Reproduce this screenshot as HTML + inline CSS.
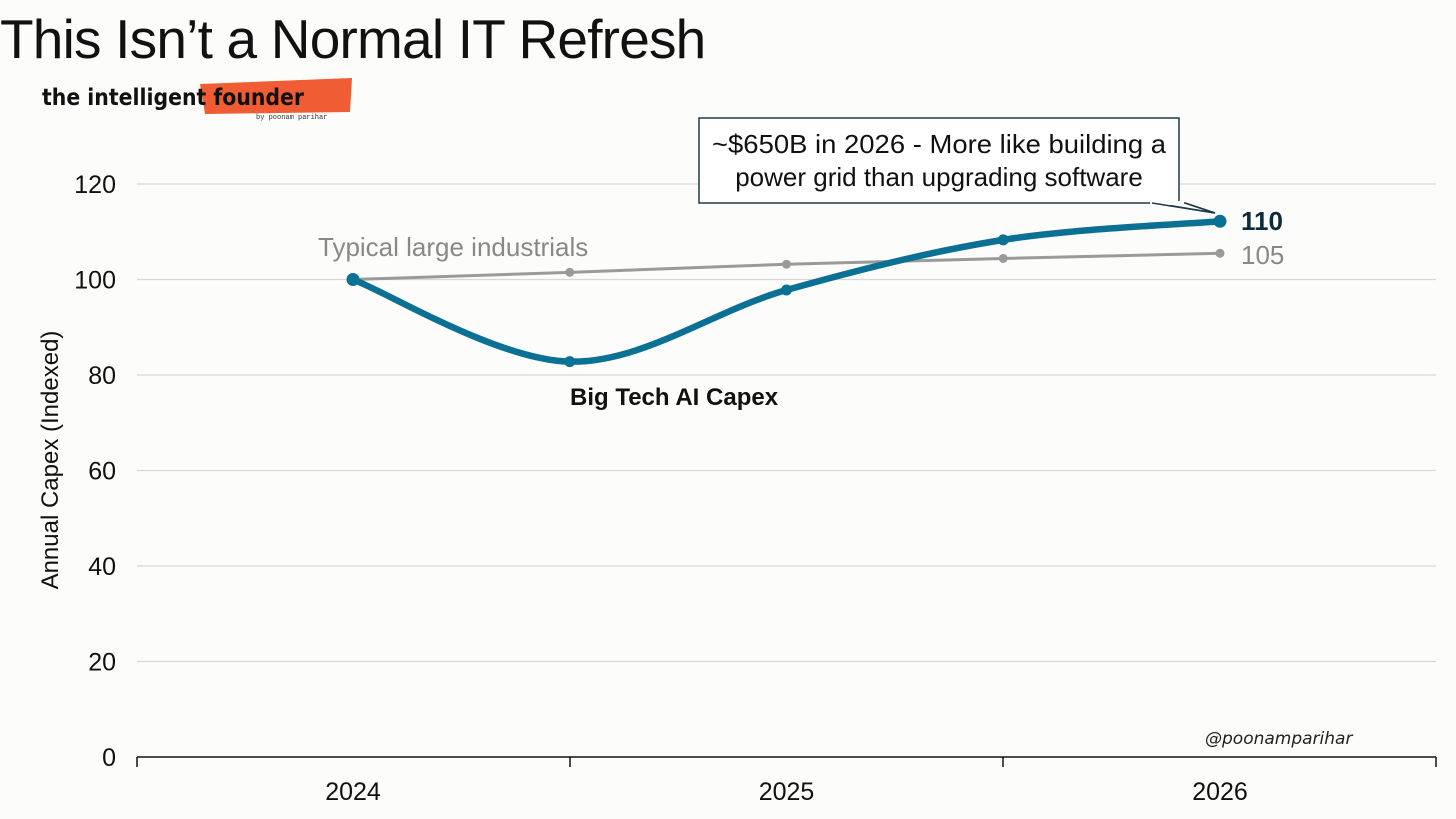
<!DOCTYPE html>
<html><head><meta charset="utf-8"><style>
body{margin:0;background:#fcfcfb;font-family:"Liberation Sans",sans-serif}
</style></head><body>
<svg id="chart" width="1456" height="819" viewBox="0 0 1456 819" xmlns="http://www.w3.org/2000/svg" style="display:block">
<rect width="1456" height="819" fill="#fcfcfb"/>
<text x="0" y="58" font-size="55" fill="#111" font-family="Liberation Sans, sans-serif" letter-spacing="-0.8">This Isn’t a Normal IT Refresh</text>
<g>
<path d="M200 84 L352 78 L350 112 L205 114 Z" fill="#ee4a1e" opacity="0.9"/>
<text x="42" y="105" font-size="23" font-weight="bold" fill="#111" font-family="DejaVu Sans, sans-serif" textLength="262" lengthAdjust="spacingAndGlyphs">the intelligent founder</text>
<text x="256" y="119" font-size="7" fill="#333" font-family="Liberation Mono, monospace">by poonam parihar</text>
</g>
<g id="grid"></g>
<g id="axes"></g>
<text transform="translate(58,460) rotate(-90)" text-anchor="middle" font-size="24" fill="#111">Annual Capex (Indexed)</text>
<g id="series"></g>
<text x="318" y="256" font-size="26" fill="#888">Typical large industrials</text>
<text x="570" y="405" font-size="24" font-weight="bold" fill="#111">Big Tech AI Capex</text>
<g>
<path d="M699 118 H1179 V203 H1185 L1215 213 L1155 203 H699 Z" fill="#fff" stroke="#1f3a48" stroke-width="1.5"/>
<rect x="1150" y="201" width="34" height="4" fill="#fff"/>
<path d="M1152 203 L1215 213 L1185 203" fill="none" stroke="#1f3a48" stroke-width="1.5"/>
<text x="939" y="153" text-anchor="middle" font-size="26" fill="#111" textLength="454" lengthAdjust="spacingAndGlyphs">~$650B in 2026 - More like building a</text>
<text x="939" y="186" text-anchor="middle" font-size="26" fill="#111">power grid than upgrading software</text>
</g>
<text x="1205" y="744" font-size="17" fill="#222" font-style="italic" font-family="DejaVu Sans, sans-serif">@poonamparihar</text>
</svg>
<script>
const categories=["2024","2024.5","2025","2025.5","2026"];
const bigTech=[100,82.8,97.8,108.3,112.2];
const industrials=[100,101.5,103.2,104.4,105.5];
const yTicks=[0,20,40,60,80,100,120];
const xTickLabels=["2024","2025","2026"];
const endLabels=["110","105"];
const NS="http://www.w3.org/2000/svg";
const x=i=>353+i*216.75;
const y=v=>757-v*(573/120);
function el(t,a,p){const e=document.createElementNS(NS,t);for(const k in a)e.setAttribute(k,a[k]);p.appendChild(e);return e;}
const grid=document.getElementById('grid'),axes=document.getElementById('axes'),series=document.getElementById('series');
yTicks.forEach(v=>{
 if(v>0){const l=el('line',{x1:137,x2:1436,y1:y(v),y2:y(v),stroke:'#dcd6d4','stroke-width':1.3},grid);
 
 }
 const t=el('text',{x:116,y:y(v)+9,'text-anchor':'end','font-size':25,fill:'#111'},axes);t.textContent=v;
 
 
});
const ax=el('line',{x1:137,x2:1436,y1:757,y2:757,stroke:'#111','stroke-width':1.5},axes);


for(let i=0;i<4;i++){el('line',{x1:137+i*433,x2:137+i*433,y1:757,y2:767,stroke:'#111','stroke-width':1.5},axes);}
xTickLabels.forEach((s,i)=>{const t=el('text',{x:x(i*2),y:800,'text-anchor':'middle','font-size':25,fill:'#111'},axes);t.textContent=s;
 
 });
function smooth(vals){const p=vals.map((v,i)=>[x(i),y(v)]);let d='M'+p[0];
 for(let i=0;i<p.length-1;i++){const p0=p[Math.max(0,i-1)],p1=p[i],p2=p[i+1],p3=p[Math.min(p.length-1,i+2)];
 d+=` C${p1[0]+(p2[0]-p0[0])/6},${p1[1]+(p2[1]-p0[1])/6} ${p2[0]-(p3[0]-p1[0])/6},${p2[1]-(p3[1]-p1[1])/6} ${p2[0]},${p2[1]}`;}return d;}
const gl=el('polyline',{points:industrials.map((v,i)=>x(i)+','+y(v)).join(' '),fill:'none',stroke:'#9a9a9a','stroke-width':3},series);


industrials.forEach((v,i)=>{const c=el('circle',{cx:x(i),cy:y(v),r:4.5,fill:'#9a9a9a'},series);
 
 });
const bl=el('path',{d:smooth(bigTech),fill:'none',stroke:'#0a7194','stroke-width':6.5,'stroke-linecap':'round'},series);


bigTech.forEach((v,i)=>{const c=el('circle',{cx:x(i),cy:y(v),r:i==0||i==4?6.5:5.5,fill:'#0a7194'},series);
 
 });
const e1=el('text',{x:1241,y:y(bigTech[4])+9,'font-size':26,'font-weight':'bold',fill:'#0d2b3a'},series);e1.textContent=endLabels[0];


const e2=el('text',{x:1241,y:y(industrials[4])+11,'font-size':26,fill:'#888'},series);e2.textContent=endLabels[1];


</script>
</body></html>
